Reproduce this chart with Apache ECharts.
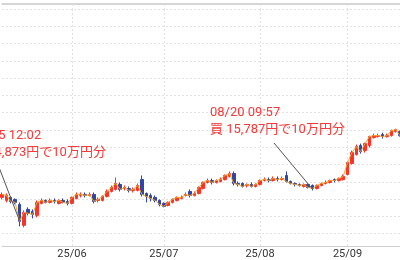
<!DOCTYPE html>
<html><head><meta charset="utf-8">
<script src="https://cdn.jsdelivr.net/npm/echarts@6/dist/echarts.min.js"></script>
<style>html,body{margin:0;padding:0;background:#fff}#c{width:400px;height:260px}</style>
</head><body><div id="c"></div>
<script>
const dates = [
 '2025-05-09','2025-05-12','2025-05-13','2025-05-14','2025-05-15','2025-05-16','2025-05-19','2025-05-20','2025-05-21','2025-05-22','2025-05-23','2025-05-26','2025-05-27','2025-05-28','2025-05-29','2025-05-30',
 '2025-06-02','2025-06-03','2025-06-04','2025-06-05','2025-06-06','2025-06-09','2025-06-10','2025-06-11','2025-06-12','2025-06-13','2025-06-16','2025-06-17','2025-06-18','2025-06-19','2025-06-20','2025-06-23','2025-06-24','2025-06-25','2025-06-26','2025-06-27','2025-06-30',
 '2025-07-01','2025-07-02','2025-07-03','2025-07-04','2025-07-07','2025-07-08','2025-07-09','2025-07-10','2025-07-11','2025-07-14','2025-07-15','2025-07-16','2025-07-17','2025-07-18','2025-07-22','2025-07-23','2025-07-24','2025-07-25','2025-07-28','2025-07-29','2025-07-30','2025-07-31',
 '2025-08-01','2025-08-04','2025-08-05','2025-08-06','2025-08-07','2025-08-08','2025-08-12','2025-08-13','2025-08-14','2025-08-15','2025-08-18','2025-08-19','2025-08-20','2025-08-21','2025-08-22','2025-08-25','2025-08-26','2025-08-27','2025-08-28','2025-08-29',
 '2025-09-01','2025-09-02','2025-09-03','2025-09-04','2025-09-05','2025-09-08','2025-09-09','2025-09-10','2025-09-11','2025-09-12','2025-09-16','2025-09-17','2025-09-18'
];
const opens = [15547,15460,15547,15489,15345,14739,15201,15143,15028,15374,15460,15403,15460,15374,15460,15431,15374,15518,15605,15634,15605,15634,15460,15460,15576,15720,15778,15922,15807,15807,15749,15749,16066,15662,15605,15547,15460,15374,15316,15403,15460,15518,15605,15720,15605,15662,15807,15980,16037,15980,16008,16066,16153,16239,15951,15951,15893,15922,15864,15922,16037,16066,16037,16095,16066,16182,16008,15951,15922,15864,15922,15893,15807,15893,15951,15980,16066,16037,16066,16210,16528,16787,17047,16903,17047,17278,17307,17365,17307,17336,17451,17451];
const closes = [15634,15605,15431,15403,14855,15114,15086,15057,15403,15460,15403,15460,15431,15460,15403,15374,15547,15634,15634,15605,15634,15431,15489,15576,15720,15835,15951,15778,15835,15749,15778,15893,15634,15576,15518,15460,15345,15287,15403,15489,15547,15547,15634,15605,15662,15835,15980,16037,15980,16037,16066,16182,16239,15951,15922,15864,15922,15864,15922,16037,16066,16037,16095,16066,16095,16008,15951,15922,15893,15922,15835,15807,15893,15951,15980,16037,16037,16095,16153,16557,16845,17018,16874,17105,17307,17336,17336,17307,17336,17480,17509,17336];
const lows = [15489,15403,15374,15345,14710,14682,15028,14941,14970,15345,15374,15374,15374,15345,15374,15316,15345,15489,15547,15547,15576,15374,15403,15431,15547,15691,15749,15720,15749,15691,15691,15720,15576,15403,15431,15403,15287,15259,15287,15374,15431,15489,15576,15547,15576,15634,15778,15951,15922,15951,15980,16037,16124,15893,15864,15835,15835,15835,15835,15893,16008,15980,16008,16008,16037,15980,15922,15864,15864,15835,15807,15749,15778,15864,15922,15951,15980,16008,16037,16182,16499,16759,16816,16845,16989,17249,17278,17249,17278,17307,17422,17307];
const highs = [15691,15662,15576,15518,15403,15172,15259,15201,15460,15518,15489,15518,15518,15489,15518,15489,15576,15691,15691,15691,15691,15691,15547,15605,15778,15893,16124,15980,15893,15864,15835,15951,16182,15691,15662,15605,15489,15403,15431,15518,15576,15605,15691,15778,15720,15864,16008,16095,16095,16066,16124,16210,16297,16297,16008,15980,15951,15980,15951,16066,16124,16124,16153,16153,16153,16297,16037,15980,15951,15951,15951,15922,15922,15980,16037,16066,16095,16124,16210,16586,16903,17076,17105,17134,17336,17394,17394,17422,17394,17509,17538,17480];

const tradeDates = ['2025-05-15','2025-08-20'];
const tradeTimes = ['12:02','09:57'];
const tradePrices = [14873,15787];
const tradeNote = '円で10万円分';

const yMin = 14500, yMax = 21000, yStep = 500;

function fmtNum(n){ return String(n).replace(/\B(?=(\d{3})+(?!\d))/g, ','); }
function isMonthStart(i){ return i > 0 && dates[i].slice(5,7) !== dates[i-1].slice(5,7); }
function monthLabel(v){ return v.slice(2,4) + '/' + v.slice(5,7); }

const ohlc = dates.map((d,i)=>[opens[i], closes[i], lows[i], highs[i]]);

// layout of the annotation text blocks (pixels)
const noteBoxes = [{x:-29, y:127, lx:-3, ly:162}, {x:210, y:104, lx:274, ly:143}];
const RED = '#f23a3a';
const FONT = 'Roboto, "Noto Sans CJK JP", sans-serif';

const chart = echarts.init(document.getElementById('c'), null, {renderer:'canvas'});
const gridTop = 9, gridBottom = 25.7;
chart.setOption({
  animation: false,
  backgroundColor: '#fff',
  grid: {left: 2, right: 0, top: gridTop, bottom: gridBottom, containLabel: false},
  xAxis: [{
    type: 'category', data: dates, boundaryGap: false, position: 'bottom', offset: 12.4,
    axisLine: {show: true, lineStyle: {color: '#cfcfcf', width: 1}},
    axisTick: {show: true, inside: true, length: 12.4, interval: (i)=>isMonthStart(i), lineStyle:{color:'#e2e2e2', type:[2,2]}},
    axisLabel: {show: true, interval: (i)=>isMonthStart(i), formatter: monthLabel, color: '#333', fontSize: 11, fontFamily: FONT, margin: 3},
    splitLine: {show: true, interval: (i)=>isMonthStart(i), lineStyle: {color: '#e2e2e2', type: [2,2]}}
  },{
    type: 'category', data: dates, boundaryGap: false, position: 'top', offset: 5,
    axisLine: {show: true, lineStyle: {color: '#c8c8c8', width: 1.5}},
    axisTick: {show: true, inside: true, length: 5, interval: (i)=>isMonthStart(i), lineStyle:{color:'#e2e2e2', type:[2,2]}},
    axisLabel: {show: false}, splitLine: {show: false}
  }],
  yAxis: {
    type: 'value', min: yMin, max: yMax, interval: yStep, scale: true,
    axisLine: {show: false}, axisTick: {show: false}, axisLabel: {show: false},
    splitLine: {show: true, lineStyle: {color: '#e2e2e2', type: [2,2]}}
  },
  series: [{
    type: 'candlestick', data: ohlc, barWidth: 3, clip: false, z: 2,
    itemStyle: {color: '#f5352b', color0: '#3046a8', borderColor: '#f5352b', borderColor0: '#3046a8', borderWidth: 1},
    markLine: {
      silent: true, symbol: ['none','none'], animation: false,
      label: {show: false},
      lineStyle: {color: '#555', width: 1, type: 'solid'},
      data: tradeDates.map((d,i)=>[{x: noteBoxes[i].lx, y: noteBoxes[i].ly}, {coord: [d, tradePrices[i]]}])
    }
  },{
    type: 'line', data: closes, showSymbol: false, symbol: 'none', clip: false,
    lineStyle: {color: '#f8a826', width: 1}, z: 3
  }],
  graphic: tradeDates.map((d,i)=>({
    type: 'text', x: noteBoxes[i].x, y: noteBoxes[i].y, z: 100,
    style: {
      text: d.slice(5,7) + '/' + d.slice(8,10) + ' ' + tradeTimes[i] + '\n買 ' + fmtNum(tradePrices[i]) + tradeNote,
      fill: RED, font: '13px ' + FONT, lineHeight: 17
    }
  }))
});
</script></body></html>
